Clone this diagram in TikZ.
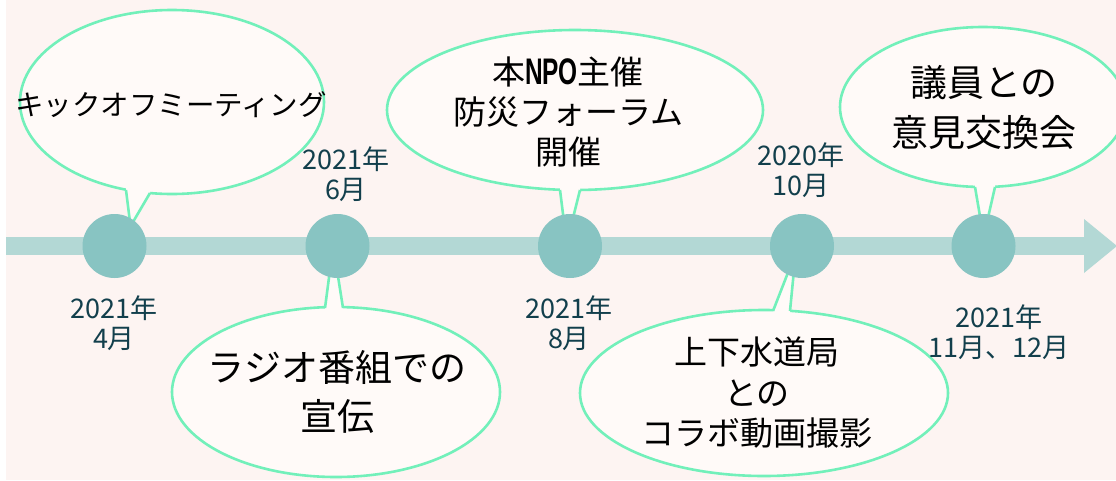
\documentclass[tikz,border=0pt]{standalone}
\usepackage{fontspec}
\newfontfamily\jp{Noto Sans CJK JP}
\newfontfamily\npofont{Liberation Sans}[FakeStretch=0.66]
\usetikzlibrary{shapes.geometric}
\definecolor{bgc}{HTML}{FDF4F2}
\definecolor{bfill}{HTML}{FFFAF8}
\definecolor{mint}{HTML}{72F0BA}
\definecolor{circc}{HTML}{88C4C2}
\definecolor{barc}{HTML}{B3D8D5}
\definecolor{datec}{HTML}{123F4C}
\begin{document}
\begin{tikzpicture}[x=1pt,y=-1pt,
  balloon/.style={ellipse, draw=mint, line width=2.6pt, fill=bfill, inner sep=0pt},
  tailline/.style={draw=mint, line width=2.6pt, line join=round},
  dot/.style={circle, fill=circc, inner sep=0pt, minimum size=64pt},
  datelbl/.style={text=datec, align=center, inner sep=0pt, font=\jp\fontsize{27}{29.5}\selectfont},
  btext/.style={text=black, align=center, inner sep=0pt}]
\useasboundingbox (0,0) rectangle (1116,480);
\fill[white] (0,0) rectangle (1116,480);
\fill[bgc] (6,0) rectangle (1116,480);
% timeline bar
\fill[barc] (6,237) rectangle (1085,255);
\fill[barc] (1084,219) -- (1117,246) -- (1084,273) -- cycle;
% balloons
\node[balloon, minimum width=304pt, minimum height=184pt] (b1) at (172,102) {};
\node[balloon, minimum width=376pt, minimum height=160pt] (b2) at (575,110) {};
\node[balloon, minimum width=286pt, minimum height=160pt] (b3) at (983,107) {};
\node[balloon, minimum width=328pt, minimum height=170pt] (b4) at (336,392) {};
\node[balloon, minimum width=368pt, minimum height=166pt] (b5) at (764,393) {};
% tails: cover outline then draw edges
\newcommand{\balltail}[8]{%
  \fill[bfill] (#1) -- (#3) -- (#4) -- (#2) -- (#5) -- (#6) -- cycle;
  \draw[tailline] (#1) -- (#3);
  \draw[tailline] (#2) -- (#4);}
\coordinate (b1l) at (126,190); \coordinate (b1r) at (150,193);
\coordinate (b1tl) at (130,222); \coordinate (b1tr) at (133,222);
\fill[bfill] (126,186) -- (150,189) -- (b1r) -- (b1tr) -- (b1tl) -- (b1l) -- cycle;
\draw[tailline] (b1l) -- (b1tl); \draw[tailline] (b1r) -- (b1tr);
\coordinate (b2l) at (560,190); \coordinate (b2r) at (580,190);
\coordinate (b2tl) at (564,222); \coordinate (b2tr) at (572,222);
\fill[bfill] (560,186) -- (580,186) -- (b2r) -- (b2tr) -- (b2tl) -- (b2l) -- cycle;
\draw[tailline] (b2l) -- (b2tl); \draw[tailline] (b2r) -- (b2tr);
\coordinate (b3l) at (975,187); \coordinate (b3r) at (995,187);
\coordinate (b3tl) at (981,222); \coordinate (b3tr) at (987,222);
\fill[bfill] (975,183) -- (995,183) -- (b3r) -- (b3tr) -- (b3tl) -- (b3l) -- cycle;
\draw[tailline] (b3l) -- (b3tl); \draw[tailline] (b3r) -- (b3tr);
\coordinate (b4l) at (325,308); \coordinate (b4r) at (343,308);
\coordinate (b4tl) at (330,270); \coordinate (b4tr) at (337,270);
\fill[bfill] (325,312) -- (343,312) -- (b4r) -- (b4tr) -- (b4tl) -- (b4l) -- cycle;
\draw[tailline] (b4l) -- (b4tl); \draw[tailline] (b4r) -- (b4tr);
\coordinate (b5l) at (773,311); \coordinate (b5r) at (790,311);
\coordinate (b5tl) at (789,270); \coordinate (b5tr) at (794,270);
\fill[bfill] (773,315) -- (790,315) -- (b5r) -- (b5tr) -- (b5tl) -- (b5l) -- cycle;
\draw[tailline] (b5l) -- (b5tl); \draw[tailline] (b5r) -- (b5tr);
% circles
\node[dot] (c1) at (114.5,246) {};
\node[dot] (c2) at (337.5,246) {};
\node[dot] (c3) at (570,246) {};
\node[dot] (c4) at (802,246) {};
\node[dot] (c5) at (983.5,246) {};
% balloon texts
\node[btext, font=\jp\fontsize{28.5}{30}\selectfont] (t1) at (171,105) {キックオフミーティング};
\node[btext, font=\jp\fontsize{33}{40}\selectfont] (t2) at (568,112)
  {本{\npofont\bfseries\fontsize{37}{40}\selectfont NPO}主催\\防災フォーラム\\開催};
\node[btext, font=\jp\fontsize{37}{50}\selectfont] (t3) at (984,107) {議員との\\意見交換会};
\node[btext, font=\jp\fontsize{37}{49}\selectfont] (t4) at (337,392) {ラジオ番組での\\宣伝};
\node[btext, font=\jp\fontsize{33}{40.5}\selectfont] (t5) at (757,393) {上下水道局\\との\\コラボ動画撮影};
% date labels
\node[datelbl] (d1) at (114,323) {2021年\\4月};
\node[datelbl] (d2) at (346,174) {2021年\\6月};
\node[datelbl] (d3) at (569,323) {2021年\\8月};
\node[datelbl] (d4) at (801,170) {2020年\\10月};
\node[datelbl] (d5) at (999,332) {2021年\\11月、12月};
\end{tikzpicture}
\end{document}
